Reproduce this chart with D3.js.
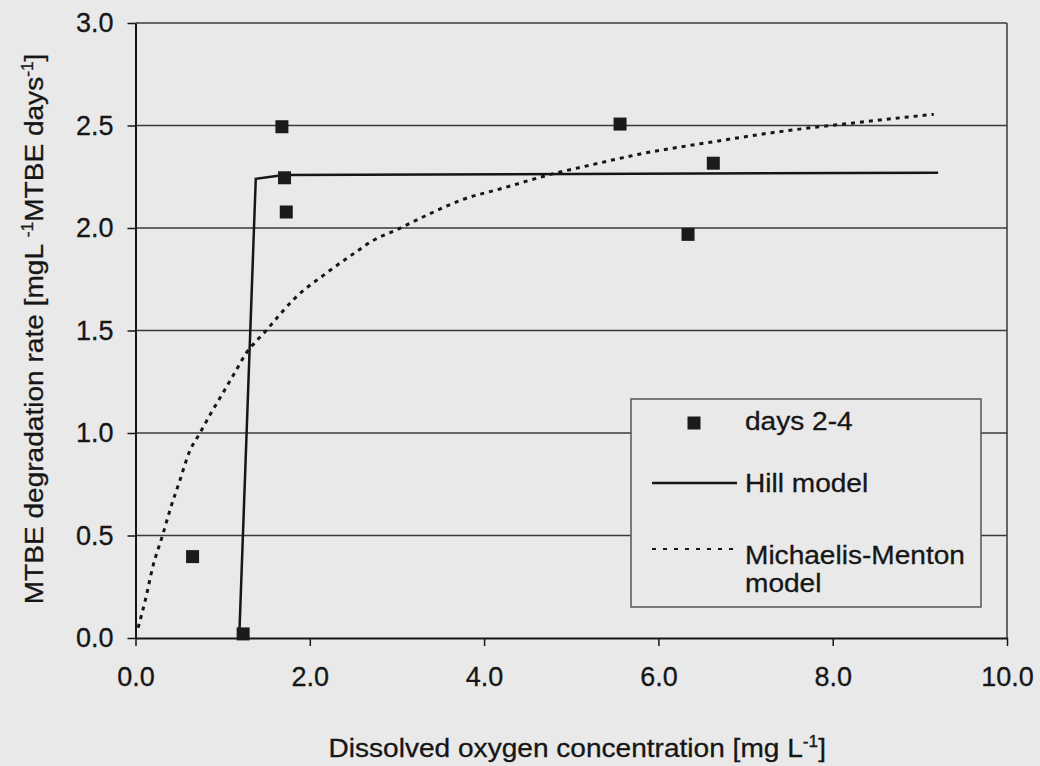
<!DOCTYPE html>
<html>
<head>
<meta charset="utf-8">
<script src="https://cdn.jsdelivr.net/npm/d3@7"></script>
<style>
  html, body { margin: 0; padding: 0; background: #e9e9e9; }
  svg { display: block; font-family: "Liberation Sans", Arial, Helvetica, sans-serif; }
</style>
</head>
<body>
<svg id="chart" width="1040" height="766"></svg>
<script>
// Measured MTBE degradation rates (days 2-4)
const obsOxygen = [0.655, 1.235, 1.68, 1.71, 1.73, 5.56, 6.34, 6.63];
const obsRate   = [0.397, 0.02, 2.494, 2.245, 2.078, 2.507, 1.969, 2.316];

// Hill model fit
const hillOxygen = [1.19, 1.38, 1.70, 9.21];
const hillRate   = [0.0, 2.24, 2.258, 2.27];

// Michaelis-Menten model fit
const mmOxygen = [0.03, 0.11, 0.20, 0.31, 0.40, 0.51, 0.62, 0.74, 0.87, 1.01, 1.16, 1.27, 1.39, 1.50, 1.60,
                  1.81, 2.19, 2.52, 2.73, 2.99, 3.38, 3.76, 4.18, 4.75, 5.25, 5.78, 6.62, 7.39, 8.19, 9.16];
const mmRate   = [0.05, 0.18, 0.35, 0.50, 0.63, 0.77, 0.91, 1.00, 1.10, 1.20, 1.31, 1.39, 1.45, 1.50, 1.55,
                  1.65, 1.78, 1.88, 1.94, 1.99, 2.07, 2.14, 2.19, 2.26, 2.31, 2.36, 2.42, 2.47, 2.51, 2.555];

// Axis ticks
const xTickValues = [0, 2, 4, 6, 8, 10];
const yTickValues = [0, 0.5, 1.0, 1.5, 2.0, 2.5, 3.0];

// Legend entries (each label split into its printed lines)
const legendLabels = [["days 2-4"], ["Hill model"], ["Michaelis-Menton", "model"]];

const BG = "#e9e9e9";
const INK = "#161616";
const GRID = "#3a3a3a";

const svg = d3.select("#chart");
svg.append("rect").attr("width", 1040).attr("height", 766).attr("fill", BG);

const plot = { left: 135.5, right: 1007, top: 23, bottom: 638 };

const x = d3.scaleLinear().domain([0, 10]).range([plot.left, plot.right]);
const y = d3.scaleLinear().domain([0, 3]).range([plot.bottom, plot.top]);
const fmt = d3.format(".1f");

// Horizontal gridlines
svg.append("g")
  .selectAll("line")
  .data(yTickValues.filter(v => v > 0))
  .join("line")
  .attr("x1", x(0)).attr("x2", x(10))
  .attr("y1", d => y(d)).attr("y2", d => y(d))
  .attr("stroke", GRID).attr("stroke-width", 1.5);

// Right frame edge
svg.append("line")
  .attr("x1", x(10)).attr("x2", x(10))
  .attr("y1", y(3)).attr("y2", y(0))
  .attr("stroke", GRID).attr("stroke-width", 1.5);

// Axes
const yAxis = svg.append("g")
  .attr("transform", `translate(${plot.left},0)`)
  .call(d3.axisLeft(y).tickValues(yTickValues).tickFormat(fmt).tickSize(8).tickSizeOuter(0).tickPadding(14));

const xAxis = svg.append("g")
  .attr("transform", `translate(0,${plot.bottom})`)
  .call(d3.axisBottom(x).tickValues(xTickValues).tickFormat(fmt).tickSize(8).tickSizeOuter(0).tickPadding(21));

[xAxis, yAxis].forEach(g => {
  g.select(".domain").attr("stroke", INK).attr("stroke-width", 2);
  g.selectAll(".tick line").attr("stroke", INK).attr("stroke-width", 1.5);
  g.selectAll(".tick text")
    .attr("fill", INK)
    .attr("stroke", INK).attr("stroke-width", 0.3)
    .style("font-size", "27px")
    .style("font-family", '"Liberation Sans", Arial, sans-serif');
});

// Model curves
const hillLine = d3.line()
  .x((d, i) => x(hillOxygen[i]))
  .y((d, i) => y(hillRate[i]));

svg.append("path")
  .attr("d", hillLine(hillOxygen))
  .attr("fill", "none")
  .attr("stroke", INK)
  .attr("stroke-width", 2.5);

const mmLine = d3.line()
  .x((d, i) => x(mmOxygen[i]))
  .y((d, i) => y(mmRate[i]))
  .curve(d3.curveMonotoneX);

svg.append("path")
  .attr("d", mmLine(mmOxygen))
  .attr("fill", "none")
  .attr("stroke", INK)
  .attr("stroke-width", 3)
  .attr("stroke-dasharray", "4,5");

// Observed points
const SQ = 13;
svg.append("g")
  .selectAll("rect")
  .data(obsOxygen)
  .join("rect")
  .attr("x", (d, i) => x(obsOxygen[i]) - SQ / 2)
  .attr("y", (d, i) => y(obsRate[i]) - SQ / 2)
  .attr("width", SQ).attr("height", SQ)
  .attr("fill", "#1b1b1b");

// Axis titles
const STRETCH = 1.08;
const xTitle = svg.append("text")
  .attr("transform", `translate(${(plot.left + plot.right) / 2 + 6},757) scale(${STRETCH},1)`)
  .attr("text-anchor", "middle")
  .attr("fill", INK)
  .attr("stroke", INK).attr("stroke-width", 0.3)
  .style("font-size", "26px");
xTitle.append("tspan").text("Dissolved oxygen concentration [mg L");
xTitle.append("tspan").attr("dy", -10).style("font-size", "16px").text("-1");
xTitle.append("tspan").attr("dy", 10).text("]");

const yTitle = svg.append("text")
  .attr("transform", `translate(43,329) rotate(-90) scale(${STRETCH},1)`)
  .attr("text-anchor", "middle")
  .attr("fill", INK)
  .attr("stroke", INK).attr("stroke-width", 0.3)
  .style("font-size", "26px");
yTitle.append("tspan").text("MTBE degradation rate [mgL ");
yTitle.append("tspan").attr("dy", -10).style("font-size", "16px").text("-1");
yTitle.append("tspan").attr("dy", 10).text("MTBE days");
yTitle.append("tspan").attr("dy", -10).style("font-size", "16px").text("-1");
yTitle.append("tspan").attr("dy", 10).text("]");

// Legend
const legend = svg.append("g").attr("transform", "translate(631,399)");
legend.append("rect")
  .attr("width", 350).attr("height", 208)
  .attr("fill", BG)
  .attr("stroke", "#555").attr("stroke-width", 1.5);

const rowBaselines = [31, 93, 165];
const symbolY = [24, 84, 150];

legend.append("rect")
  .attr("x", 63 - 6.5).attr("y", symbolY[0] - 6.5)
  .attr("width", 13).attr("height", 13)
  .attr("fill", "#1b1b1b");

legend.append("line")
  .attr("x1", 21).attr("x2", 106)
  .attr("y1", symbolY[1]).attr("y2", symbolY[1])
  .attr("stroke", INK).attr("stroke-width", 2.5);

legend.append("line")
  .attr("x1", 21).attr("x2", 102)
  .attr("y1", symbolY[2]).attr("y2", symbolY[2])
  .attr("stroke", INK).attr("stroke-width", 2.2)
  .attr("stroke-dasharray", "4,7");

legendLabels.forEach((lines, i) => {
  const t = legend.append("text")
    .attr("transform", `translate(114,${rowBaselines[i]}) scale(${STRETCH},1)`)
    .attr("fill", INK)
    .attr("stroke", INK).attr("stroke-width", 0.3)
    .style("font-size", "26px");
  lines.forEach((ln, j) => {
    t.append("tspan").attr("x", 0).attr("dy", j === 0 ? 0 : 28).text(ln);
  });
});
</script>
</body>
</html>
